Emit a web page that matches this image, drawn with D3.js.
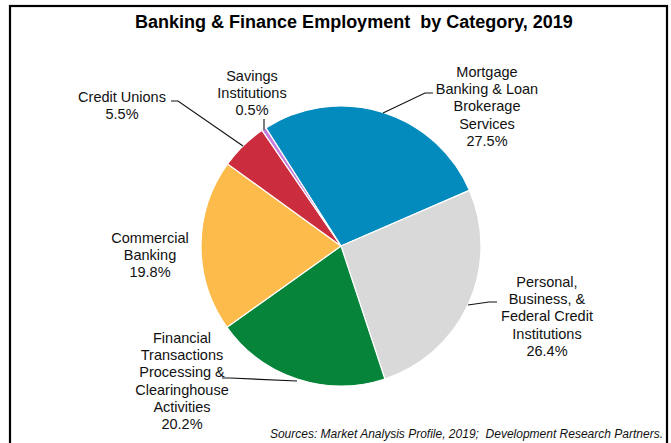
<!DOCTYPE html>
<html><head><meta charset="utf-8">
<script src="https://cdn.jsdelivr.net/npm/d3@7"></script>
<style>body{margin:0;background:#fff}svg{display:block}text{font-family:"Liberation Sans",Arial,sans-serif}</style>
</head><body>
<svg id="c" width="671" height="443"></svg>
<script>
const categories = ["Mortgage Banking & Loan Brokerage Services","Personal, Business, & Federal Credit Institutions","Financial Transactions Processing & Clearinghouse Activities","Commercial Banking","Credit Unions","Savings Institutions"];
const shares = [27.5, 26.4, 20.2, 19.8, 5.5, 0.5];
const labelLines = [
  ["Mortgage","Banking & Loan","Brokerage","Services"],
  ["Personal,","Business, &","Federal Credit","Institutions"],
  ["Financial","Transactions","Processing &","Clearinghouse","Activities"],
  ["Commercial","Banking"],
  ["Credit Unions"],
  ["Savings","Institutions"]
];
const colors = ["#048BBE","#D9D9D9","#05843A","#FDBB4B","#CC2D3E","#C77CDB"];

const svg = d3.select("#c");
svg.append("rect").attr("x",10).attr("y",6).attr("width",657).attr("height",460)
  .attr("fill","none").attr("stroke","#000").attr("stroke-width",2.2);

svg.append("text").attr("x",354).attr("y",28).attr("text-anchor","middle")
  .attr("font-size",18).attr("font-weight","bold").style("white-space","pre")
  .text("Banking & Finance Employment  by Category, 2019");

const cx=341, cy=246, R=140;
const start = -32.5*Math.PI/180;
const pie = d3.pie().sort(null).value(d=>d).startAngle(start).endAngle(start+2*Math.PI);
const arcs = pie(shares);
const arc = d3.arc().innerRadius(0).outerRadius(R);
const g = svg.append("g").attr("transform",`translate(${cx},${cy})`);
g.selectAll("path").data(arcs).join("path").attr("d",arc)
  .attr("fill",(d,i)=>colors[i]).attr("stroke","#fff").attr("stroke-width",1.2);

const labelPos = [
  {x:487, y:77, leader:[[433,93],[425,93],[383,113]]},
  {x:547, y:287, leader:[[497,302],[489,302],[468,305]]},
  {x:182, y:343, leader:[[222,378],[230,378],[297,381]]},
  {x:150, y:243, leader:null},
  {x:122, y:102, leader:[[171,101],[178,101],[243,146]]},
  {x:252, y:81, leader:[[264,119],[264,130]]}
];
const lh = 17.2;
arcs.forEach((a,i)=>{
  const p = labelPos[i];
  const lines = labelLines[i].concat([d3.format(".1f")(shares[i])+"%"]);
  const t = svg.append("text").attr("text-anchor","middle").attr("font-size",14.5).attr("fill","#111");
  lines.forEach((s,k)=>t.append("tspan").attr("x",p.x).attr("y",p.y+k*lh).text(s));
  if(p.leader){
    svg.append("path").attr("d",d3.line()(p.leader)).attr("fill","none").attr("stroke","#111").attr("stroke-width",1.1);
  }
});

svg.append("text").attr("x",663).attr("y",438).attr("text-anchor","end")
  .attr("font-size",12).attr("font-style","italic").style("white-space","pre").attr("fill","#111")
  .text("Sources: Market Analysis Profile, 2019;  Development Research Partners.");
</script>
</body></html>
